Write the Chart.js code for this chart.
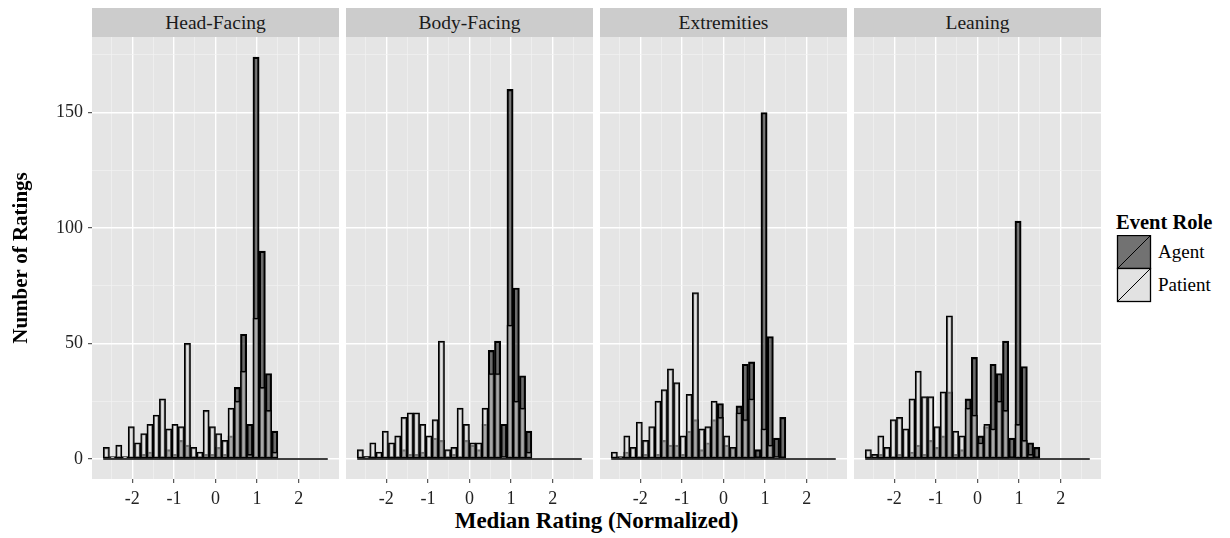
<!DOCTYPE html>
<html>
<head>
<meta charset="utf-8">
<script src="https://cdn.jsdelivr.net/npm/chart.js@4.4.1/dist/chart.umd.min.js"></script>
<style>
  body { margin: 0; width: 1230px; height: 538px; background: #fff; position: relative; overflow: hidden;
         font-family: 'Liberation Serif', 'Times New Roman', serif; }
  canvas { position: absolute; top: 37px; }
  .strip { position: absolute; top: 8px; height: 29px; width: 247px; background: #cccccc; color: #1a1a1a;
           font-size: 19.5px; line-height: 29px; text-align: center; }
  #xtitle { position: absolute; left: 92px; width: 1009px; top: 508px; text-align: center;
            font-weight: bold; font-size: 23px; }
  #legend { position: absolute; left: 1116px; top: 210px; }
  #legend .ttl { font-weight: bold; font-size: 20.5px; line-height: 24px; }
  #legend .row { position: absolute; left: 42px; font-size: 19px; }
</style>
</head>
<body>
<div id="strips"></div>
<div id="xtitle">Median Rating (Normalized)</div>
<div id="legend">
  <div class="ttl">Event Role</div>
  <svg width="36" height="68" style="position:absolute;left:0;top:25px">
    <rect x="1.5" y="0.5" width="33" height="33" fill="#727272" stroke="#000" stroke-width="1.3"/>
    <line x1="1.5" y1="33.5" x2="34.5" y2="0.5" stroke="#000" stroke-width="1"/>
    <rect x="1.5" y="33.5" width="33" height="33" fill="#e2e2e2" stroke="#000" stroke-width="1.3"/>
    <line x1="1.5" y1="66.5" x2="34.5" y2="33.5" stroke="#000" stroke-width="1"/>
  </svg>
  <div class="row" style="top:31px">Agent</div>
  <div class="row" style="top:64px">Patient</div>
</div>
<script>
// histogram bins (centres), width 0.15
const binCenters = [-2.625, -2.475, -2.325, -2.175, -2.025, -1.875, -1.725, -1.575, -1.425, -1.275,
  -1.125, -0.975, -0.825, -0.675, -0.525, -0.375, -0.225, -0.075, 0.075, 0.225, 0.375, 0.525,
  0.675, 0.825, 0.975, 1.125, 1.275, 1.425, 1.575, 1.725, 1.875, 2.025, 2.175, 2.325, 2.475, 2.625];

const facets = ['Head-Facing', 'Body-Facing', 'Extremities', 'Leaning'];

const headAgent   = [0,0,1,0,0,1,2,3,0,1,4,2,8,6,1,1,2,2,5,2,10,31,54,15,174,90,37,12,0,0,0,0,0,0,0,0];
const headPatient = [5,1,6,1,14,7,11,15,19,26,13,15,14,50,5,3,21,14,11,8,22,25,38,2,61,31,21,3,0,0,0,0,0,0,0,0];
const bodyAgent   = [0,1,1,0,0,1,1,4,2,2,3,1,9,8,1,2,1,8,6,4,15,47,51,15,160,74,36,12,0,0,0,0,0,0,0,0];
const bodyPatient = [4,1,7,3,12,7,10,18,20,20,15,10,17,51,4,5,22,15,7,7,22,37,37,1,58,25,22,3,0,0,0,0,0,0,0,0];
const extAgent    = [0,1,3,0,1,2,0,2,8,6,6,2,12,17,4,7,17,24,6,5,23,41,42,4,150,53,9,18,0,0,0,0,0,0,0,0];
const extPatient  = [3,0,10,5,16,8,14,25,30,39,33,10,28,72,13,14,25,18,10,5,20,17,26,0,13,6,1,0,0,0,0,0,0,0,0,0];
const leanAgent   = [0,0,2,0,1,2,0,3,6,2,8,5,10,29,2,4,26,44,10,14,41,37,51,9,103,40,7,5,0,0,0,0,0,0,0,0];
const leanPatient = [4,2,10,5,17,18,13,26,38,27,27,14,29,62,12,10,22,19,7,15,13,25,21,0,15,8,2,0,0,0,0,0,0,0,0,0];

const agentSeries = [headAgent, bodyAgent, extAgent, leanAgent];
const patientSeries = [headPatient, bodyPatient, extPatient, leanPatient];

// axis breaks: labelled majors and the minor grid in between
const xGrid = [-2.5, -2, -1.5, -1, -0.5, 0, 0.5, 1, 1.5, 2, 2.5];
const yGrid = [0, 25, 50, 75, 100, 125, 150, 175];
const xMajor = [-2, -1, 0, 1, 2];
const yMajor = [0, 50, 100, 150];

const X_MIN = -2.97, X_MAX = 2.97;
const Y_MIN = -8.7, Y_MAX = 182.7;

const PANEL_W = 247, PANEL_STEP = 254, FIRST_LEFT = 92;
const FONT = "'Liberation Serif', 'Times New Roman', serif";

const panelBg = {
  id: 'panelBg',
  beforeDraw(chart) {
    const { ctx, chartArea: a } = chart;
    ctx.save();
    ctx.fillStyle = '#e5e5e5';
    ctx.fillRect(a.left, a.top, a.right - a.left, a.bottom - a.top);
    ctx.restore();
  }
};

function gridOpts(majors, showTicks) {
  return {
    offset: false,
    color: c => majors.includes(c.tick.value) ? '#ffffff' : '#f2f2f2',
    lineWidth: c => majors.includes(c.tick.value) ? 1.4 : 0.7,
    tickColor: c => (showTicks && majors.includes(c.tick.value)) ? '#333333' : 'rgba(0,0,0,0)',
    tickWidth: 1,
    tickLength: 4
  };
}

// no extra room for labels overhanging the plot area
function noPad(ax) {
  ax.paddingTop = 0;
  ax.paddingBottom = 0;
  ax.paddingLeft = 0;
  ax.paddingRight = 0;
}

const halfBin = (binCenters[1] - binCenters[0]) / 2;

facets.forEach((name, k) => {
  const left = FIRST_LEFT + PANEL_STEP * k;
  const strip = document.createElement('div');
  strip.className = 'strip';
  strip.style.left = left + 'px';
  strip.textContent = name;
  document.getElementById('strips').appendChild(strip);

  const showY = k === 0;
  const canvas = document.createElement('canvas');
  const yW = showY ? FIRST_LEFT : 0;
  canvas.width = PANEL_W + yW;
  canvas.height = 472;
  canvas.style.left = (left - yW) + 'px';
  document.body.appendChild(canvas);

  new Chart(canvas, {
    type: 'bar',
    data: {
      datasets: [
        {
          type: 'line',
          data: [{ x: binCenters[0] - halfBin, y: 0 }, { x: binCenters[binCenters.length - 1] + halfBin, y: 0 }],
          borderColor: '#000',
          borderWidth: 1.5,
          pointRadius: 0,
          order: 0
        },
        {
          label: 'Patient',
          data: binCenters.map((c, i) => ({ x: c, y: patientSeries[k][i] })),
          backgroundColor: 'rgba(222,222,222,0.52)',
          borderColor: '#000',
          borderWidth: 1.5,
          borderSkipped: false,
          grouped: false,
          barPercentage: 1,
          categoryPercentage: 1,
          order: 1
        },
        {
          label: 'Agent',
          data: binCenters.map((c, i) => ({ x: c, y: agentSeries[k][i] })),
          backgroundColor: 'rgba(0,0,0,0.53)',
          borderColor: '#000',
          borderWidth: 1.5,
          borderSkipped: false,
          grouped: false,
          barPercentage: 1,
          categoryPercentage: 1,
          order: 2
        }
      ]
    },
    options: {
      responsive: false,
      animation: false,
      devicePixelRatio: 1,
      layout: { padding: 0 },
      plugins: { legend: { display: false }, tooltip: { enabled: false } },
      scales: {
        x: {
          type: 'linear',
          min: X_MIN,
          max: X_MAX,
          offset: false,
          border: { display: false },
          grid: gridOpts(xMajor, true),
          afterBuildTicks: ax => { ax.ticks = xGrid.map(v => ({ value: v })); },
          afterFit: ax => { ax.height = 30; noPad(ax); },
          ticks: {
            autoSkip: false,
            maxRotation: 0,
            padding: 5,
            color: '#222',
            font: { family: FONT, size: 18 },
            callback: v => xMajor.includes(v) ? String(v) : ''
          }
        },
        y: {
          type: 'linear',
          min: Y_MIN,
          max: Y_MAX,
          border: { display: false },
          grid: gridOpts(yMajor, showY),
          afterBuildTicks: ax => { ax.ticks = yGrid.map(v => ({ value: v })); },
          afterFit: ax => { ax.width = yW; noPad(ax); },
          ticks: {
            display: showY,
            padding: 5,
            color: '#222',
            font: { family: FONT, size: 18 },
            callback: v => yMajor.includes(v) ? String(v) : ''
          },
          title: {
            display: showY,
            text: 'Number of Ratings',
            color: '#000',
            font: { family: FONT, size: 21, weight: 'bold' },
            padding: { top: 9, bottom: 0 }
          }
        }
      }
    },
    plugins: [panelBg]
  });
});
</script>
</body>
</html>
